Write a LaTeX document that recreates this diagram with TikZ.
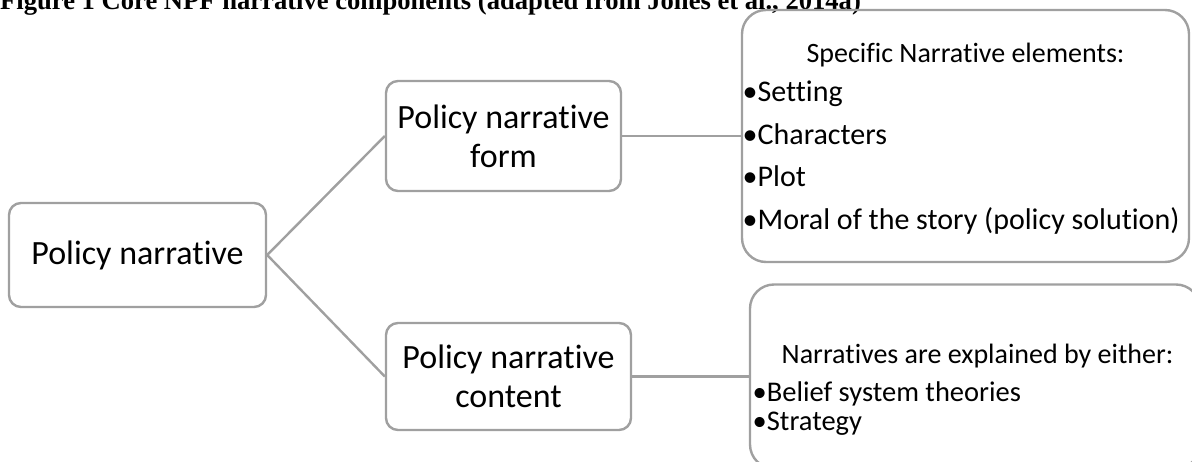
\documentclass[tikz,border=0pt]{standalone}
\usepackage{fontspec}
\setmainfont{Carlito}[Ligatures=NoCommon]
\newfontfamily\titleserif{Liberation Serif}
\definecolor{boxgray}{RGB}{160,160,160}
\begin{document}
\begin{tikzpicture}[x=1pt,y=-1pt,
  box/.style={draw=boxgray, line width=2.4pt, rounded corners=12pt, inner sep=0pt, align=center, font=\fontsize{34}{39}\selectfont},
  bigbox/.style={draw=boxgray, line width=2.4pt, rounded corners=24pt, inner sep=0pt},
  conn/.style={draw=boxgray, line width=2.4pt},
  headtext/.style={inner sep=0pt, font=\fontsize{28}{34}\selectfont},
  itemtext/.style={inner sep=0pt, font=\fontsize{30}{36}\selectfont},
  smallitem/.style={inner sep=0pt, font=\fontsize{28.5}{34}\selectfont},
  titletext/.style={inner sep=0pt, font=\titleserif\bfseries\fontsize{26.6}{30}\selectfont}
  ]
\clip (0,0) rectangle (1192,462);
\node[titletext, anchor=base west] (title) at (0,10) {Figure 1 Core NPF narrative components (adapted from Jones et al., 2014a)};

\node[box, minimum width=257pt, minimum height=104pt] (A) at (137.5,255) {Policy narrative};
\node[box, minimum width=235pt, minimum height=110pt] (B) at (503.5,136) {Policy narrative\\form};
\node[box, minimum width=245pt, minimum height=107pt] (C) at (508.5,376.5) {Policy narrative\\content};
\node[bigbox, minimum width=447pt, minimum height=252pt] (D) at (965.5,136) {};
\node[bigbox, minimum width=450pt, minimum height=184pt] (E) at (975,376.5) {};

\draw[conn] (A.east) -- (B.west);
\draw[conn] (A.east) -- (C.west);
\draw[conn] (B.east) -- (D.west);
\draw[conn] (C.east) -- (E.west);

\node[headtext, anchor=base] (d0) at (965.5,63) {Specific Narrative elements:};
\node[itemtext, anchor=base west] (d1) at (742.5,102) {•Setting};
\node[itemtext, anchor=base west] (d2) at (742.5,145) {•Characters};
\node[itemtext, anchor=base west] (d3) at (742.5,187) {•Plot};
\node[itemtext, anchor=base west] (d4) at (742.5,230) {•Moral of the story (policy solution)};

\node[headtext, anchor=base] (e0) at (977.5,363) {Narratives are explained by either:};
\node[smallitem, anchor=base west] (e1) at (752.5,402) {•Belief system theories};
\node[smallitem, anchor=base west] (e2) at (752.5,430) {•Strategy};
\end{tikzpicture}
\end{document}
